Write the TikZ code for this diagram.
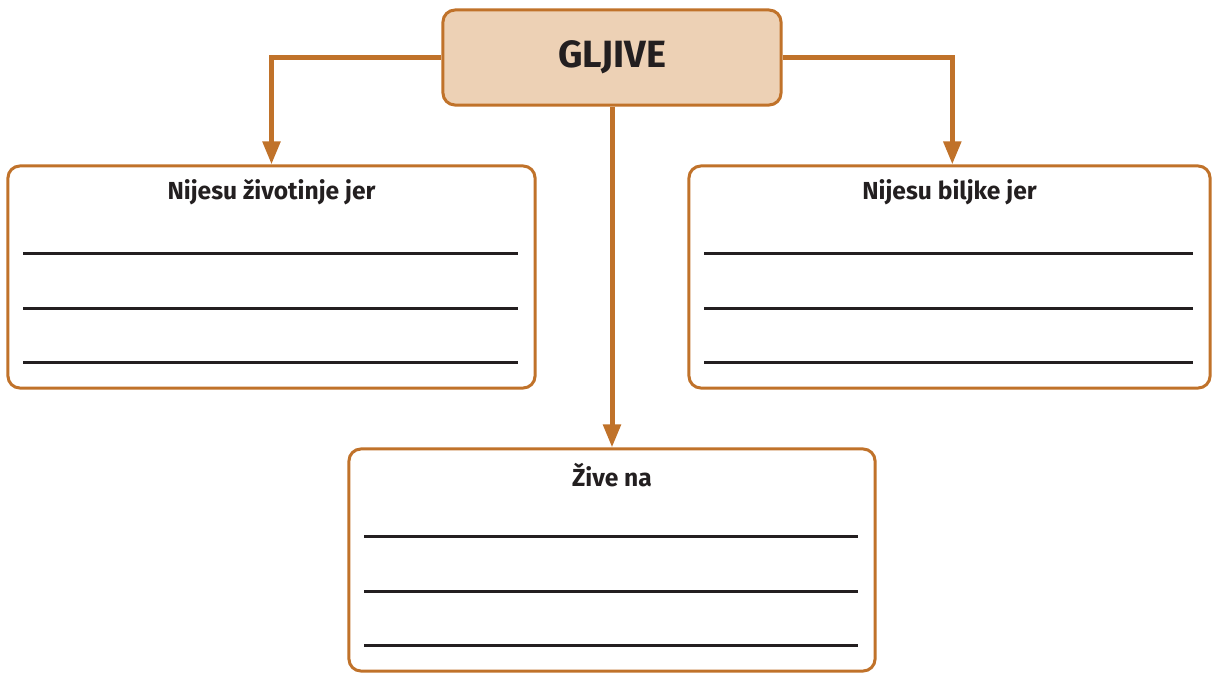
\documentclass[tikz,border=0pt]{standalone}
\usepackage{fontspec}
\setmainfont{Fira Sans}
\usetikzlibrary{arrows.meta,positioning}
\definecolor{gOr}{HTML}{C0722A}
\definecolor{gFill}{HTML}{EDD1B5}
\definecolor{gTxt}{HTML}{231F20}

\tikzstyle{tS}=[rectangle,rounded corners=0.3cm,draw=gOr,fill=gFill,line width=0.075cm,minimum width=8.45cm,minimum height=2.375cm,inner sep=0pt,text=gTxt,font=\fontsize{27}{32}\selectfont\bfseries]
\tikzstyle{bS}=[rectangle,rounded corners=0.3cm,draw=gOr,line width=0.075cm,minimum height=5.55cm,inner sep=0pt]
\tikzstyle{hS}=[inner sep=0pt,text=gTxt,font=\fontsize{17.5}{21}\selectfont\bfseries]
\tikzstyle{aS}=[draw=gOr,line width=0.125cm,-{Triangle[width=0.43cm,length=0.58cm]}]
\tikzstyle{lS}=[draw=gTxt,line width=0.06cm]

\begin{document}
\begin{tikzpicture}[x=0.025cm,y=-0.025cm]
                \useasboundingbox (0,0) rectangle (1212,673);
                \draw (612,57.5) node[tS] (gl) {GLJIVE};
                \draw (271.5,277) node[bS,minimum width=13.175cm] (zi) {};
                \draw (949.5,277) node[bS,minimum width=13.025cm] (bi) {};
                \draw (612,560) node[bS,minimum width=13.15cm] (na) {};
                \node[hS] at ([yshift=-0.7cm]zi.north) {Nijesu životinje jer};
                \node[hS] at ([yshift=-0.7cm]bi.north) {Nijesu biljke jer};
                \node[hS] at ([yshift=-0.7cm]na.north) {Žive na};
                % crte za pisanje
                \foreach \b in {zi,bi,na}
                    \foreach \d in {89,144,198}
                        \draw[lS] ([shift={(17,\d)}]\b.north west) -- ([shift={(-19,\d)}]\b.north east);
                \draw[aS] (gl.west) -| (zi.north);
                \draw[aS] (gl.east) -| ([xshift=2]bi.north);
                \draw[aS] (gl.south) -- (na.north);
        \end{tikzpicture}
\end{document}
